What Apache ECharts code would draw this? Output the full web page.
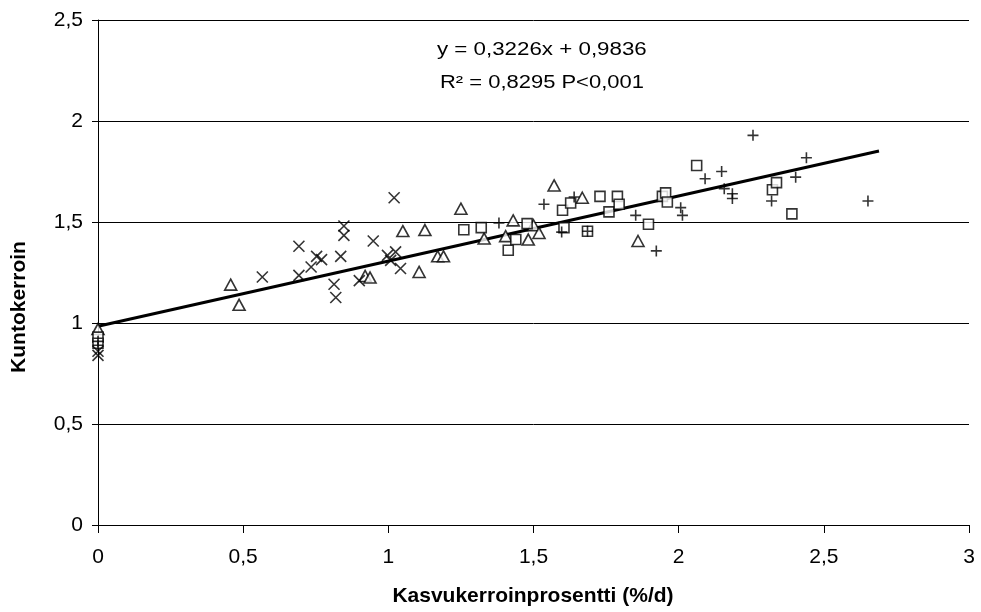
<!DOCTYPE html>
<html>
<head>
<meta charset="utf-8">
<script src="https://cdn.jsdelivr.net/npm/echarts@6/dist/echarts.min.js"></script>
<style>
  html, body { margin: 0; padding: 0; background: #fff; }
  #chart { width: 981px; height: 612px; }
</style>
</head>
<body>
<div id="chart"></div>
<script>
// data: [kasvukerroinprosentti, kuntokerroin]
const triangles = [
  [0, 0.97], [0.457, 1.19], [0.486, 1.09], [0.92, 1.233], [0.937, 1.225],
  [1.05, 1.455], [1.106, 1.253], [1.126, 1.46], [1.17, 1.33], [1.19, 1.33],
  [1.25, 1.566], [1.33, 1.418], [1.404, 1.43], [1.43, 1.508], [1.482, 1.413],
  [1.5, 1.484], [1.519, 1.446], [1.571, 1.681], [1.668, 1.62], [1.86, 1.406]
]
const crosses = [
  [0, 0.86], [0, 0.84], [0.566, 1.228], [0.692, 1.38], [0.692, 1.236],
  [0.734, 1.277], [0.753, 1.33], [0.77, 1.314], [0.813, 1.192], [0.819, 1.126],
  [0.836, 1.33], [0.847, 1.48], [0.847, 1.434], [0.9, 1.21], [0.948, 1.406],
  [0.997, 1.335], [1.008, 1.31], [1.025, 1.352], [1.02, 1.62], [1.042, 1.27]
]
const squares = [
  [0, 0.93], [0, 0.90], [1.26, 1.462], [1.32, 1.472], [1.413, 1.36],
  [1.439, 1.413], [1.478, 1.492], [1.6, 1.558], [1.605, 1.472], [1.628, 1.594],
  [1.686, 1.454], [1.729, 1.627], [1.76, 1.55], [1.789, 1.627], [1.795, 1.588],
  [1.896, 1.489], [1.944, 1.627], [1.955, 1.644], [1.961, 1.599], [2.062, 1.78],
  [2.323, 1.66], [2.337, 1.695], [2.39, 1.54]
]
const pluses = [
  [0, 0.91], [0, 0.89], [1.381, 1.495], [1.536, 1.588], [1.597, 1.45],
  [1.64, 1.624], [1.686, 1.454], [1.852, 1.533], [1.923, 1.357], [2.007, 1.571],
  [2.013, 1.533], [2.091, 1.714], [2.148, 1.75], [2.157, 1.665], [2.185, 1.64],
  [2.185, 1.616], [2.256, 1.929], [2.32, 1.604], [2.403, 1.722], [2.44, 1.818],
  [2.652, 1.604]
]
// trend line y = 0,3226x + 0,9836 drawn from x = 0 to 2,69
const slope = 0.3226
const intercept = 0.9836
const trendX = [0, 2.69]
const trend = trendX.map(x => [x, slope * x + intercept])

const fmt = v => String(v).replace('.', ',')
const font = '"Liberation Sans", Arial, sans-serif'

const markerStyle = {
  color: '#fff',
  borderColor: '#000',
  borderWidth: 1.6
}
const lineMarker = {
  color: 'none',
  borderColor: '#000',
  borderWidth: 1.6
}

const option = {
  animation: false,
  backgroundColor: '#fff',
  grid: {
    left: 98,
    right: 12,
    top: 20,
    bottom: 87
  },
  xAxis: {
    type: 'value',
    min: 0,
    max: 3,
    interval: 0.5,
    axisLine: { show: true, lineStyle: { color: '#000', width: 1 } },
    axisTick: { show: true, length: 8, lineStyle: { color: '#000' } },
    axisLabel: { color: '#000', fontFamily: font, fontSize: 21, margin: 22, formatter: fmt },
    splitLine: { show: false }
  },
  yAxis: {
    type: 'value',
    min: 0,
    max: 2.5,
    interval: 0.5,
    axisLine: { show: true, lineStyle: { color: '#000', width: 1 } },
    axisTick: { show: true, length: 6, lineStyle: { color: '#000' } },
    axisLabel: { color: '#000', fontFamily: font, fontSize: 21, margin: 15, formatter: fmt },
    splitLine: { show: true, lineStyle: { color: '#000', width: 1 } }
  },
  graphic: [
    {
      type: 'text',
      x: 437,
      y: 41,
      scaleX: 1.24,
      style: { text: 'y = 0,3226x + 0,9836', fill: '#000', font: '18px ' + font }
    },
    {
      type: 'text',
      x: 440,
      y: 74,
      scaleX: 1.22,
      style: { text: 'R² = 0,8295 P<0,001', fill: '#000', font: '18px ' + font }
    },
    {
      type: 'text',
      x: 533,
      y: 596,
      style: {
        text: 'Kasvukerroinprosentti (%/d)',
        fill: '#000',
        font: 'bold 21px ' + font,
        align: 'center',
        verticalAlign: 'middle'
      }
    },
    {
      type: 'text',
      x: 19,
      y: 307,
      rotation: Math.PI / 2,
      style: {
        text: 'Kuntokerroin',
        fill: '#000',
        font: 'bold 21px ' + font,
        align: 'center',
        verticalAlign: 'middle'
      }
    }
  ],
  series: [
    {
      name: 'trend',
      type: 'line',
      data: trend,
      symbol: 'none',
      lineStyle: { color: '#000', width: 3 },
      z: 1
    },
    {
      name: 'triangles',
      type: 'scatter',
      data: triangles,
      symbol: 'triangle',
      symbolSize: [12, 11],
      itemStyle: markerStyle,
      z: 3
    },
    {
      name: 'squares',
      type: 'scatter',
      data: squares,
      symbol: 'rect',
      symbolSize: 10,
      itemStyle: markerStyle,
      z: 3
    },
    {
      name: 'crosses',
      type: 'scatter',
      data: crosses,
      symbol: 'path://M0,0L10,10M10,0L0,10',
      symbolSize: 11,
      itemStyle: lineMarker,
      z: 4
    },
    {
      name: 'pluses',
      type: 'scatter',
      data: pluses,
      symbol: 'path://M5,0L5,10M0,5L10,5',
      symbolSize: 11,
      itemStyle: lineMarker,
      z: 4
    }
  ]
}

const myChart = echarts.init(document.getElementById('chart'))
myChart.setOption(option)
</script>
</body>
</html>
